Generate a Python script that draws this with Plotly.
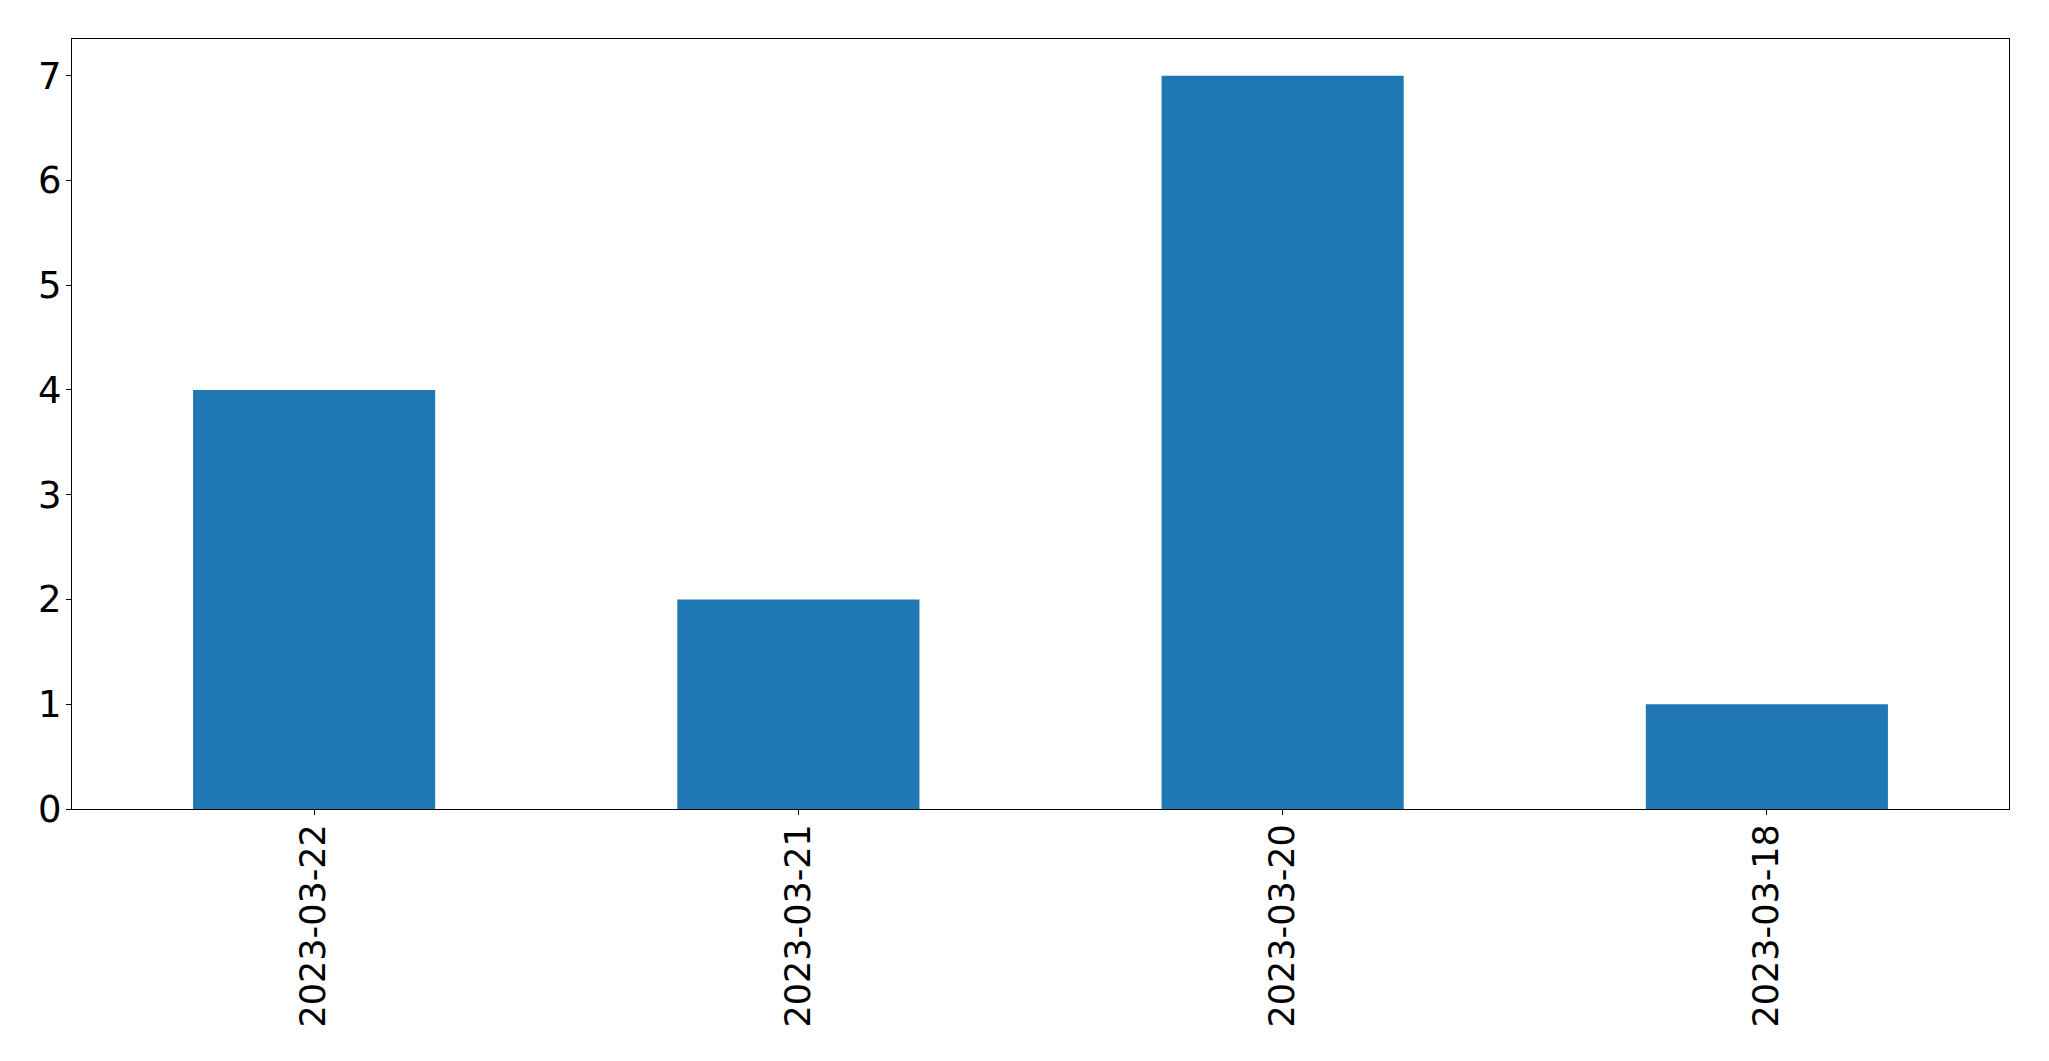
import plotly.graph_objects as go

categories = ["2023-03-22", "2023-03-21", "2023-03-20", "2023-03-18"]
values = [4, 2, 7, 1]
y_ticks = [0, 1, 2, 3, 4, 5, 6, 7]

fig = go.Figure()
fig.add_trace(go.Bar(
    x=categories, y=values, width=0.5,
    marker=dict(color="#1f77b4", line=dict(width=0)),
))

font_family = "DejaVu Sans"
fig.update_layout(
    width=2049, height=1061,
    margin=dict(l=64, r=48, t=31, b=260, pad=0),
    paper_bgcolor="white", plot_bgcolor="white",
    showlegend=False,
    font=dict(family=font_family, size=35, color="black"),
)
fig.update_xaxes(
    type="category", range=[-0.5, 3.5],
    showline=True, linecolor="black", linewidth=1.3, mirror=True,
    ticks="outside", ticklen=5, tickwidth=1.3, tickcolor="black",
    tickangle=-90, showgrid=False, zeroline=False,
    ticklabelstandoff=-5,
    tickfont=dict(family=font_family, size=35, color="black"),
)
fig.update_yaxes(
    range=[0, 7.35], tickvals=y_ticks,
    showline=True, linecolor="black", linewidth=1.3, mirror=True,
    ticks="outside", ticklen=5, tickwidth=1.3, tickcolor="black",
    showgrid=False, zeroline=False,
    ticklabelstandoff=-3,
    tickfont=dict(family=font_family, size=37, color="black"),
)

fig.write_html("out.html")
